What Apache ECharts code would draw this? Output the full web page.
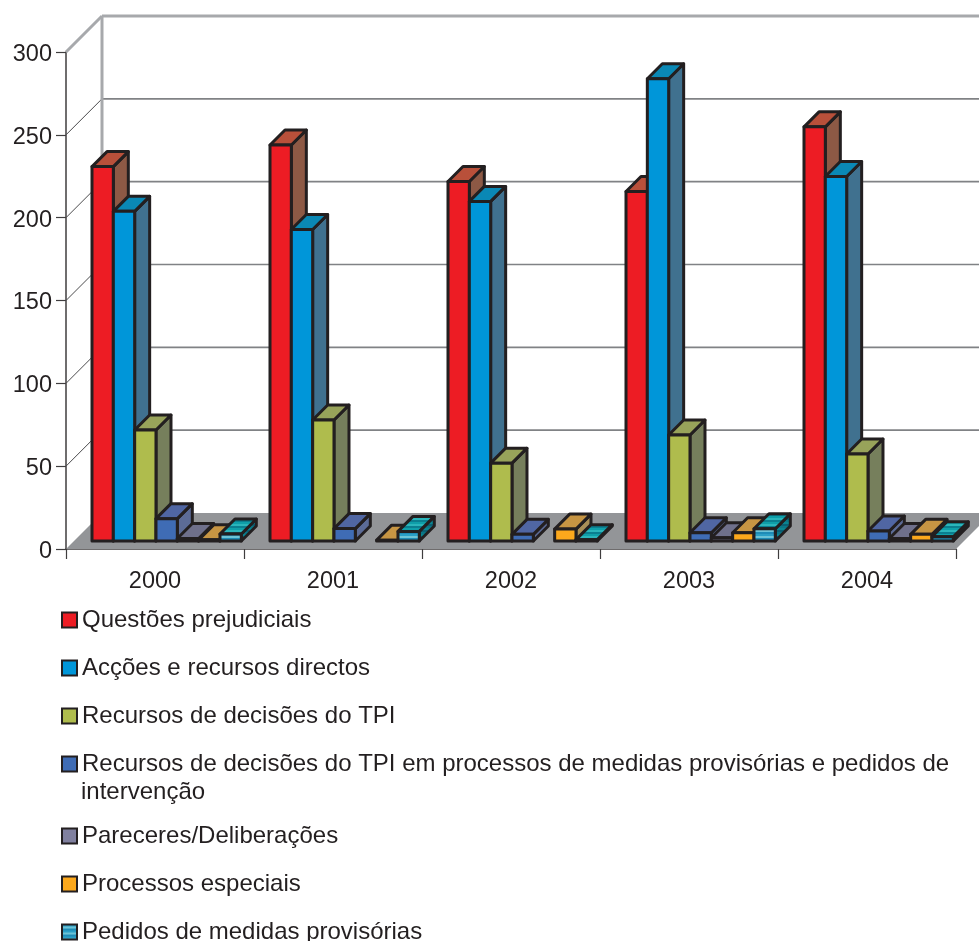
<!DOCTYPE html>
<html>
<head>
<meta charset="utf-8">
<style>html,body{margin:0;padding:0;background:#fff}#c{width:979px;height:941px}</style>
<script src="https://cdn.jsdelivr.net/npm/echarts@6/dist/echarts.min.js"></script>
</head>
<body>
<div id="c"></div>
<script>
const years = ['2000', '2001', '2002', '2003', '2004'];
const yTicks = [0, 50, 100, 150, 200, 250, 300];

const names = [
  'Questões prejudiciais',
  'Acções e recursos directos',
  'Recursos de decisões do TPI',
  'Recursos de decisões do TPI em processos de medidas provisórias e pedidos de intervenção',
  'Pareceres/Deliberações',
  'Processos especiais',
  'Pedidos de medidas provisórias'
];

const questoes = [226, 239, 217, 211, 250];
const accoes = [199, 188, 205, 279, 220];
const recursos = [67, 73, 47, 64, 52.5];
const recursosMedidas = [13.5, 7.5, 4, 5, 6];
const pareceres = [1.5, 0, 0, 2, 1.5];
const especiais = [0.7, 0.5, 7.2, 5, 4];
const medidas = [4.2, 5.8, 0.8, 7.4, 2.6];
const seriesValues = [questoes, accoes, recursos, recursosMedidas, pareceres, especiais, medidas];

const INK = '#231f20';
const AXIS_INK = '#3f3d3e';

// Striped fill used by the last series
function stripes(a, b, c) {
  const cv = document.createElement('canvas');
  cv.width = 4; cv.height = 6;
  const g = cv.getContext('2d');
  g.fillStyle = a; g.fillRect(0, 0, 4, 2);
  g.fillStyle = b; g.fillRect(0, 2, 4, 2);
  g.fillStyle = c; g.fillRect(0, 4, 4, 2);
  return { image: cv, repeat: 'repeat' };
}

const faces = [
  { front: '#ed1c24', top: '#b9503a', side: '#8d5945' },
  { front: '#0096d9', top: '#0a88b5', side: '#40718f' },
  { front: '#afbc4d', top: '#98a35a', side: '#767f5c' },
  { front: '#3f6cb5', top: '#5066a3', side: '#5c6b96' },
  { front: '#80809f', top: '#6f708b', side: '#626480' },
  { front: '#fca81c', top: '#c79543', side: '#a98f58' },
  {
    front: stripes('#2a9fc6', '#6cc3d6', '#1f8cb6'),
    top: stripes('#0f9fa9', '#2bb5bb', '#0b7f90'),
    side: stripes('#0a8491', '#0b5f73', '#0a7686')
  }
];

const WALL_DEPTH = 36;     // how far the back wall sits behind the axes
const BAR_INSET = 8;       // lift of the bar bases above the front axis
const BAR_DEPTH = 15;      // receding depth of each bar
const BAR_WIDTH = 21.33;
const FIRST_BAR = -63;     // offset of the first bar from the category centre

function renderBar(seriesIdx) {
  return function (params, api) {
    const v = api.value(1);
    if (!v) return null;
    const c = api.coord([api.value(0), v]);
    const base = api.coord([api.value(0), 0]);
    const x0 = c[0] + FIRST_BAR + seriesIdx * BAR_WIDTH;
    const x1 = x0 + BAR_WIDTH;
    const yT = c[1] - BAR_INSET;
    const yB = base[1] - BAR_INSET;
    const d = BAR_DEPTH;
    const lineStyle = { stroke: INK, lineWidth: 3, lineJoin: 'round' };
    const f = faces[seriesIdx];
    const poly = (pts, fill) => ({
      type: 'polygon',
      shape: { points: pts },
      style: Object.assign({ fill: fill }, lineStyle)
    });
    return {
      type: 'group',
      children: [
        poly([[x1, yB], [x1 + d, yB - d], [x1 + d, yT - d], [x1, yT]], f.side),
        poly([[x0, yT], [x0 + d, yT - d], [x1 + d, yT - d], [x1, yT]], f.top),
        poly([[x0, yB], [x1, yB], [x1, yT], [x0, yT]], f.front)
      ]
    };
  };
}

// Floor, back wall and its gridlines, placed from the value axis
function renderWalls(params, api) {
  const cs = params.coordSys;
  const left = cs.x, right = cs.x + cs.width;
  const D = WALL_DEPTH;
  const zero = api.coord([0, 0])[1];
  const topTick = yTicks[yTicks.length - 1];
  const top = api.coord([0, topTick])[1];
  const children = [{
    type: 'polygon',
    shape: { points: [[left, zero], [right, zero], [right + D, zero - D], [left + D, zero - D]] },
    style: { fill: '#939598', stroke: null }
  }];
  yTicks.forEach(function (t) {
    if (t === 0) return;
    const y = api.coord([0, t])[1];
    const isTop = t === topTick;
    children.push({
      type: 'line',
      shape: { x1: left + D, y1: y - D, x2: right + D, y2: y - D },
      style: isTop ? { stroke: '#a7a9ac', lineWidth: 3 } : { stroke: '#808285', lineWidth: 1.6 }
    });
    children.push({
      type: 'line',
      shape: { x1: left, y1: y, x2: left + D, y2: y - D },
      style: isTop ? { stroke: '#a7a9ac', lineWidth: 3 } : { stroke: '#4a4a4c', lineWidth: 1 }
    });
  });
  children.push({
    type: 'line',
    shape: { x1: left + D, y1: top - D, x2: left + D, y2: zero - D },
    style: { stroke: '#a7a9ac', lineWidth: 3 }
  });
  return { type: 'group', children: children };
}

const legendText = { fontFamily: 'Liberation Sans', fontSize: 24, color: INK, lineHeight: 28 };
const legendItem = (i) => ({
  name: names[i],
  icon: 'rect',
  itemStyle: { color: faces[i].front, borderColor: INK, borderWidth: 2 }
});
const legendBase = {
  orient: 'vertical',
  left: 61,
  padding: 0,
  itemWidth: 15,
  itemHeight: 15,
  itemGap: 20,
  textStyle: legendText,
  selectedMode: false,
  formatter: (n) => n.replace(' intervenção', '')
};
const axisFont = { fontFamily: 'Liberation Sans', fontSize: 23.5, color: INK };

const chart = echarts.init(document.getElementById('c'), null, { renderer: 'canvas' });
chart.setOption({
  animation: false,
  backgroundColor: '#fff',
  grid: { left: 66, right: 23, top: 52, bottom: 392, containLabel: false },
  xAxis: {
    type: 'category',
    data: years,
    boundaryGap: true,
    axisLine: { lineStyle: { color: AXIS_INK, width: 1.5 } },
    axisTick: { show: true, length: 10, alignWithLabel: false, lineStyle: { color: AXIS_INK, width: 1.2 } },
    axisLabel: Object.assign({ margin: 21 }, axisFont),
    splitLine: { show: false }
  },
  yAxis: {
    type: 'value',
    min: 0, max: 300, interval: 50,
    axisLine: { show: true, lineStyle: { color: AXIS_INK, width: 1.5 } },
    axisTick: { show: true, length: 10, lineStyle: { color: AXIS_INK, width: 1.2 } },
    axisLabel: Object.assign({
      margin: 14,
      formatter: (v) => '{n|' + v + '}',
      rich: { n: Object.assign({ padding: [5, 0, 0, 0], verticalAlign: 'bottom' }, axisFont) }
    }, axisFont),
    splitLine: { show: false }
  },
  legend: [
    Object.assign({}, legendBase, { top: 606, data: [0, 1, 2, 3].map(legendItem) }),
    Object.assign({}, legendBase, { top: 822, data: [4, 5].map(legendItem) }),
    Object.assign({}, legendBase, { top: 918, data: [6].map(legendItem) })
  ],
  graphic: [{
    type: 'text',
    left: 81, top: 778,
    style: { text: 'intervenção', fontFamily: 'Liberation Sans', fontSize: 24, fill: INK, lineHeight: 28 }
  }],
  series: [{
    name: 'walls',
    type: 'custom',
    silent: true,
    z: 1,
    clip: false,
    renderItem: renderWalls,
    encode: { x: 0, y: 1 },
    data: [[0, 0]]
  }].concat(seriesValues.map(function (vals, s) {
    return {
      name: names[s],
      type: 'custom',
      z: 2 + s,
      clip: false,
      renderItem: renderBar(s),
      encode: { x: 0, y: 1 },
      itemStyle: { color: faces[s].front },
      data: vals.map((v, i) => [i, v])
    };
  }))
});
</script>
</body>
</html>
